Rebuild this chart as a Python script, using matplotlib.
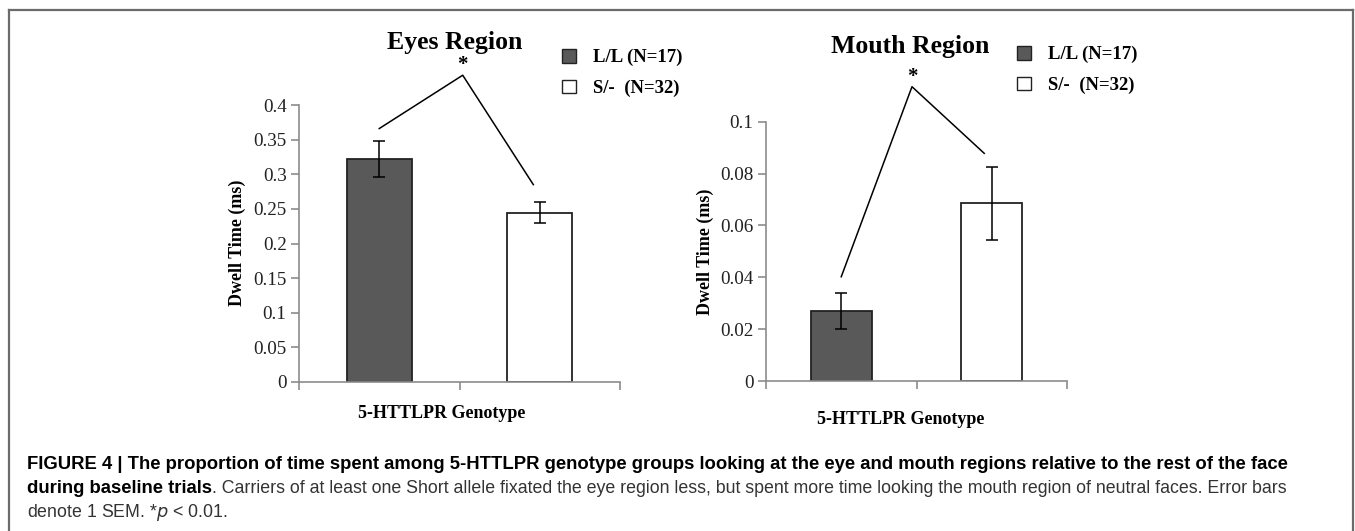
import matplotlib.pyplot as plt
import matplotlib.lines as mlines
from matplotlib.ticker import FuncFormatter
import numpy as np

# data
groups = ["L/L (N=17)", "S/-  (N=32)"]
eyes_mean = [0.322, 0.2445]
eyes_sem = [0.026, 0.015]
mouth_mean = [0.027, 0.0685]
mouth_sem = [0.007, 0.014]

# significance bracket points (x in bar units, y in data units)
eyes_sig_x = [0.0, 0.52, 0.96]
eyes_sig_y = [0.366, 0.443, 0.285]
mouth_sig_x = [0.0, 0.47, 0.95]
mouth_sig_y = [0.0402, 0.1135, 0.0878]

bar_colors = ["#595959", "#ffffff"]
serif = "Liberation Serif"

W, H = 1355, 531
fig = plt.figure(figsize=(W / 100, H / 100), dpi=100)


def px_axes(x0, y0, x1, y1):
    # pixel box (top-left origin) -> figure fraction
    return fig.add_axes([x0 / W, 1 - y1 / H, (x1 - x0) / W, (y1 - y0) / H])


def panel(ax, means, sems, ymax, ystep, sig_x, sig_y, title, title_xy, leg_xy,
          ylab_xy, xlab_xy):
    x = np.arange(len(means))
    bars = ax.bar(x, means, width=0.405, color=bar_colors, edgecolor="#222222",
                  linewidth=1.3, zorder=2)
    ax.errorbar(x, means, yerr=sems, fmt="none", ecolor="black",
                elinewidth=1.1, capsize=4, capthick=1.1, zorder=3)
    ax.set_xlim(-0.5, 1.5)
    ax.set_ylim(0, ymax)
    ax.set_yticks(np.arange(0, ymax + ystep / 2, ystep))
    ax.yaxis.set_major_formatter(FuncFormatter(lambda v, p: "%g" % round(v, 4)))
    ax.set_xticks([-0.5, 0.5, 1.5])
    ax.set_xticklabels([])
    for s in ["top", "right"]:
        ax.spines[s].set_visible(False)
    for s in ["left", "bottom"]:
        ax.spines[s].set_color("#8c8c8c")
        ax.spines[s].set_linewidth(1.2)
    ax.tick_params(axis="both", colors="#8c8c8c", length=6, width=1.2)
    ax.tick_params(axis="y", labelcolor="#222222", labelsize=13.8, pad=3)
    for t in ax.get_yticklabels():
        t.set_fontfamily(serif)

    ax.plot(sig_x, sig_y, color="black", linewidth=1.1, clip_on=False)
    ax.text(sig_x[1], sig_y[1], "*", ha="center", va="bottom",
            fontsize=15, fontweight="bold", family=serif)

    fig.text(title_xy[0] / W, 1 - title_xy[1] / H, title, ha="center",
             va="center", fontsize=18.5, fontweight="bold", family=serif)
    fig.text(ylab_xy[0] / W, 1 - ylab_xy[1] / H, "Dwell Time (ms)", rotation=90,
             ha="center", va="center", fontsize=13, fontweight="bold",
             family=serif)
    fig.text(xlab_xy[0] / W, 1 - xlab_xy[1] / H, "5-HTTLPR Genotype",
             ha="center", va="center", fontsize=13, fontweight="bold",
             family=serif)

    leg = ax.legend(bars, groups, loc="upper left",
                    bbox_to_anchor=(leg_xy[0] / W, 1 - leg_xy[1] / H),
                    bbox_transform=fig.transFigure, frameon=False,
                    handlelength=0.75, handleheight=0.75, handletextpad=0.9,
                    labelspacing=0.7, borderaxespad=0, borderpad=0,
                    prop={"family": serif, "weight": "bold", "size": 13.5})
    for h in leg.legend_handles:
        h.set_edgecolor("#222222")
        h.set_linewidth(1.0)


ax1 = px_axes(299, 105, 620, 382)
panel(ax1, eyes_mean, eyes_sem, 0.4, 0.05, eyes_sig_x, eyes_sig_y,
      "Eyes Region", (455, 42), (562, 49), (237, 243), (442, 413))

ax2 = px_axes(766, 121.7, 1067, 381)
panel(ax2, mouth_mean, mouth_sem, 0.1, 0.02, mouth_sig_x, mouth_sig_y,
      "Mouth Region", (910, 46), (1017, 46), (705, 252), (901, 420))

# frame around the figure
frame_kw = dict(color="#6b6b6b", linewidth=1.6, transform=fig.transFigure)
fig.add_artist(mlines.Line2D([9 / W, 1353 / W], [1 - 10 / H, 1 - 10 / H], **frame_kw))
fig.add_artist(mlines.Line2D([9 / W, 9 / W], [1 - 10 / H, 0], **frame_kw))
fig.add_artist(mlines.Line2D([1353 / W, 1353 / W], [1 - 10 / H, 0], **frame_kw))

# caption
cap_font = "Liberation Sans"
bold_size = 13.35
norm_size = 12.8
cap_x = 27 / W
fig.text(cap_x, 1 - 469 / H,
         "FIGURE 4 | The proportion of time spent among 5-HTTLPR genotype groups "
         "looking at the eye and mouth regions relative to the rest of the face",
         fontsize=bold_size, fontweight="bold", family=cap_font, va="baseline")
t2 = fig.text(cap_x, 1 - 493 / H, "during baseline trials", fontsize=bold_size,
              fontweight="bold", family=cap_font, va="baseline")
fig.add_artist(plt.Annotation(
    ". Carriers of at least one Short allele fixated the eye region less, "
    "but spent more time looking the mouth region of neutral faces. Error bars",
    xy=(1, 0), xycoords=t2, va="bottom", fontsize=norm_size, family=cap_font,
    color="#333333"))
fig.text(cap_x, 1 - 517 / H, r"denote 1 SEM. *$p$ < 0.01.", fontsize=norm_size,
         family=cap_font, color="#333333", va="baseline")

fig.savefig("out.png", dpi=100)
